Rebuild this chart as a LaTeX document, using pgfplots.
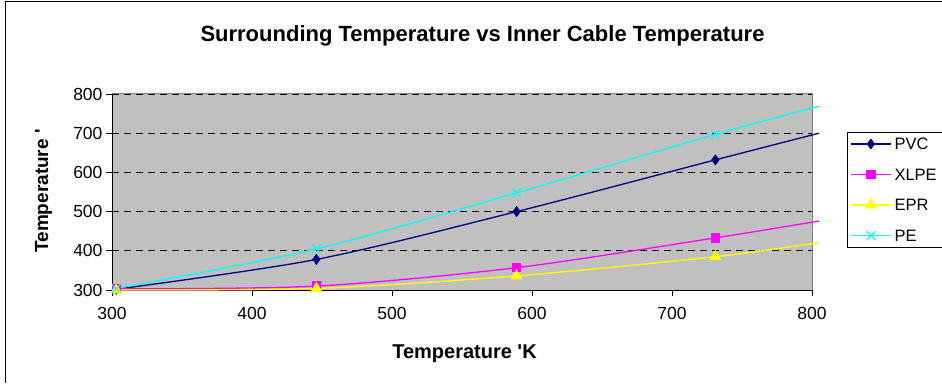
\documentclass[border=0pt]{standalone}
\usepackage{pgfplots}
\pgfplotsset{compat=1.18}
\usepackage{fontspec}
\setmainfont{Liberation Sans}
\definecolor{bgray}{HTML}{C0C0C0}
\definecolor{pvc}{HTML}{000080}
\definecolor{xlpe}{HTML}{FF00FF}
\definecolor{epr}{HTML}{FFFF00}
\definecolor{pe}{HTML}{00FFFF}
\begin{document}
\begin{tikzpicture}[x=1pt,y=1pt]
\useasboundingbox (0,0) rectangle (942,383);
\draw[black, line width=1pt] (5.5,0) -- (5.5,381.5) -- (942,381.5);
\begin{axis}[
  at={(112pt,93pt)}, anchor=south west,
  scale only axis, width=700pt, height=196pt,
  xmin=300, xmax=800, ymin=300, ymax=800,
  xtick={300,400,...,800}, ytick={300,400,...,800},
  axis x line*=bottom, axis y line*=left,
  axis line style={black, line width=1pt},
  tick pos=left, tick align=outside, major tick length=6pt,
  tick style={black, line width=0.8pt},
  ymajorgrids, grid style={black, dash pattern=on 7pt off 5pt, line width=0.8pt},
  axis background/.style={fill=bgray},
  clip=false,
  ticklabel style={font=\fontsize{17.5}{17.5}\selectfont},
  xticklabel style={yshift=-8pt},
  /pgf/number format/assume math mode=true,
  legend style={at={(1.05,0.806)}, anchor=north west, draw=black, fill=white,
    font=\fontsize{16.5}{16.5}\selectfont, inner sep=3pt, row sep=13pt,
    nodes={inner sep=3pt, text height=11.5pt, text depth=0pt}},
  legend cell align=left,
  legend image code/.code={\draw[#1, line width=1.3pt, mark indices={2}] plot coordinates {(0pt,0pt) (20pt,0pt) (40pt,0pt)};},
]
\draw[gray, line width=1pt] (rel axis cs:0,1) -- (rel axis cs:1,1) -- (rel axis cs:1,0);
\addplot[pvc, line width=1.3pt, smooth, mark=diamond*, mark size=4.5pt, mark indices={1,2,3,4}, mark options={solid, fill=pvc}]
  coordinates {(303,302) (446,378) (589,500) (731,632) (805,700)};
\addlegendentry{PVC}
\addplot[xlpe, line width=1.3pt, smooth, mark=square*, mark size=4pt, mark indices={1,2,3,4}, mark options={solid, fill=xlpe}]
  coordinates {(303,303) (446,310) (589,357) (731,433) (805,476)};
\addlegendentry{XLPE}
\addplot[epr, line width=1.3pt, smooth, mark=triangle*, mark size=5.5pt, mark indices={1,2,3,4}, mark options={solid, fill=epr}]
  coordinates {(303,300) (446,304) (589,336) (731,385) (805,421)};
\addlegendentry{EPR}
\addplot[pe, line width=1.3pt, smooth, mark=x, mark size=6pt, mark indices={1,2,3,4}, mark options={solid, line width=1pt}]
  coordinates {(303,304) (446,405) (589,548) (731,697) (805,769)};
\addlegendentry{PE}
\end{axis}
\node[anchor=base, font=\bfseries\fontsize{22}{22}\selectfont] at (482.5,341) {Surrounding Temperature vs Inner Cable Temperature};
\node[anchor=base, font=\bfseries\fontsize{20}{20}\selectfont] at (464.5,25) {Temperature \textquotesingle K};
\node[rotate=90, anchor=base, font=\bfseries\fontsize{19}{19}\selectfont] at (48,192) {Temperature \textquotesingle};
\end{tikzpicture}
\end{document}
